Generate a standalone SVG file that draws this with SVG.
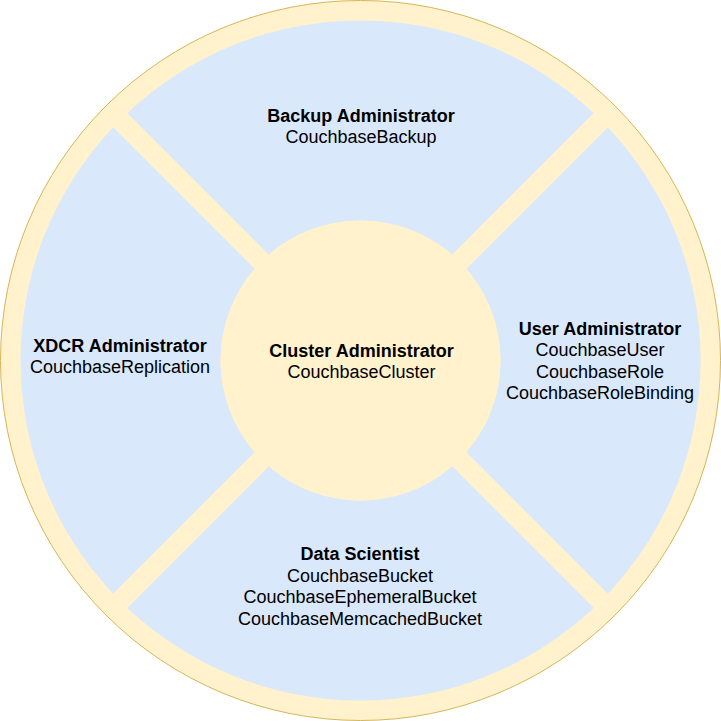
<svg xmlns="http://www.w3.org/2000/svg" width="721" height="721" viewBox="0 0 721 721">
<style>
.seg{fill:#dae8fc;stroke:none}
.hub{fill:#fff2cc;stroke:none}
.ring{fill:#fff2cc;stroke:#d6b656;stroke-width:1}
text{font-family:"Liberation Sans",Arial,Helvetica,sans-serif;font-size:18px;fill:#000000;text-anchor:middle}
.b{font-weight:bold}
</style>
<rect width="721" height="721" fill="#ffffff"/>
<g id="outer-ring">
<circle class="ring" cx="360.5" cy="360.5" r="360"/>
</g>
<g id="backup-administrator">
<path class="seg" d="M 127.26 113.12 A 340 340 0 0 1 593.74 113.12 L 452.17 254.69 A 140 140 0 0 0 268.83 254.69 Z"/>
<text x="361" y="121.5" class="b">Backup Administrator</text>
<text x="361" y="143.1">CouchbaseBackup</text>
</g>
<g id="user-administrator">
<path class="seg" d="M 607.88 127.26 A 340 340 0 0 1 607.88 593.74 L 466.31 452.17 A 140 140 0 0 0 466.31 268.83 Z"/>
<text x="600" y="334.5" class="b">User Administrator</text>
<text x="600" y="356.1">CouchbaseUser</text>
<text x="600" y="377.7">CouchbaseRole</text>
<text x="600" y="399.3">CouchbaseRoleBinding</text>
</g>
<g id="data-scientist">
<path class="seg" d="M 593.74 607.88 A 340 340 0 0 1 127.26 607.88 L 268.83 466.31 A 140 140 0 0 0 452.17 466.31 Z"/>
<text x="360" y="560" class="b">Data Scientist</text>
<text x="360" y="581.6">CouchbaseBucket</text>
<text x="360" y="603.2">CouchbaseEphemeralBucket</text>
<text x="360" y="624.8">CouchbaseMemcachedBucket</text>
</g>
<g id="xdcr-administrator">
<path class="seg" d="M 113.12 593.74 A 340 340 0 0 1 113.12 127.26 L 254.69 268.83 A 140 140 0 0 0 254.69 452.17 Z"/>
<text x="120" y="351.5" class="b">XDCR Administrator</text>
<text x="120" y="373.1">CouchbaseReplication</text>
</g>
<g id="cluster-administrator">
<circle class="hub" cx="360.5" cy="360.5" r="140"/>
<text x="361.5" y="356.5" class="b">Cluster Administrator</text>
<text x="361.5" y="378.1">CouchbaseCluster</text>
</g>
<g id="connectors"/>
</svg>
